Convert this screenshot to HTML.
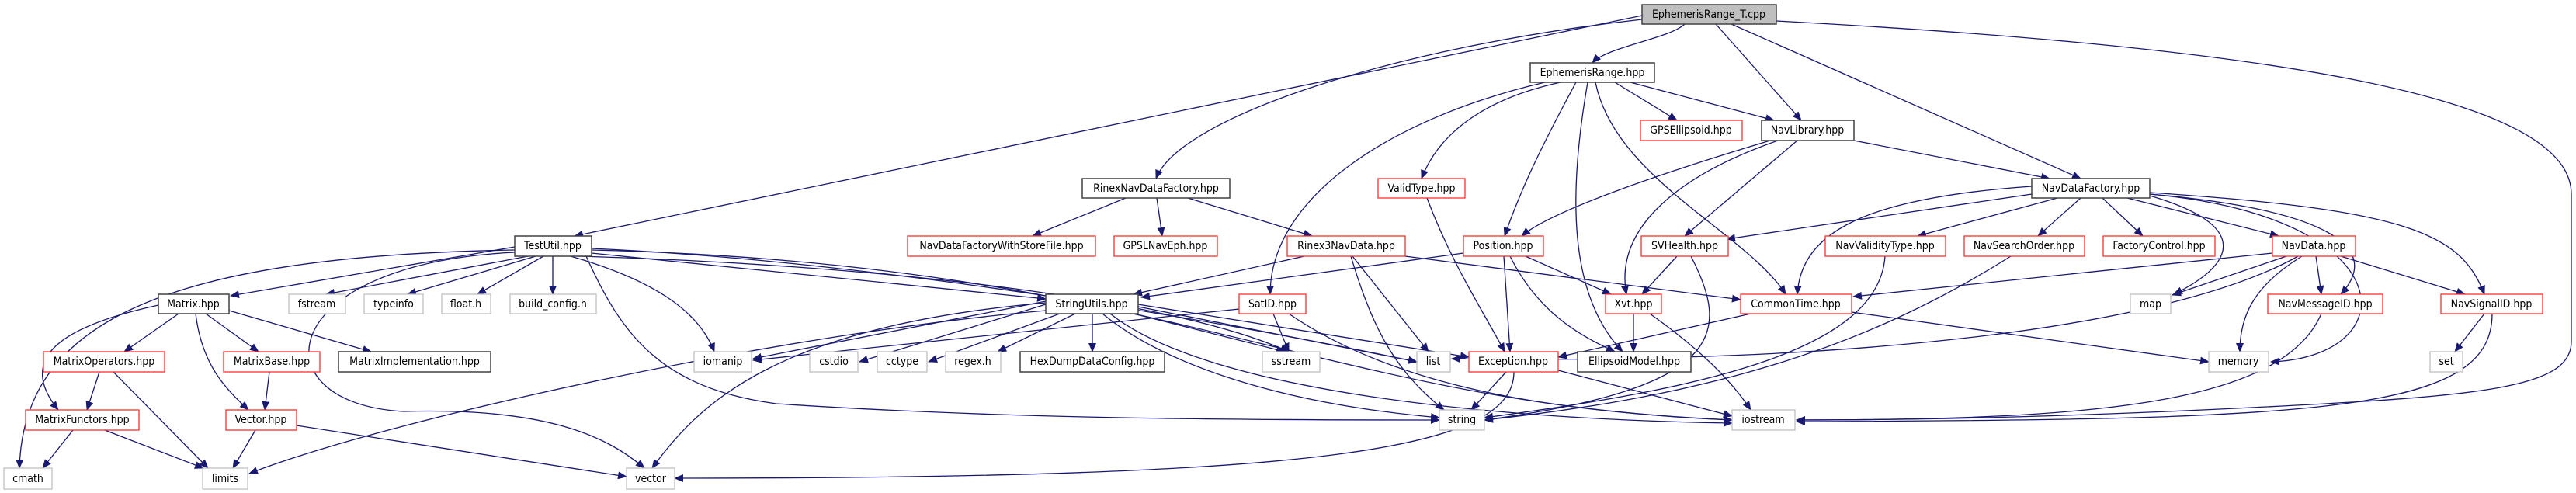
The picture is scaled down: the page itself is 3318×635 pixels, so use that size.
<!DOCTYPE html>
<html><head><meta charset="utf-8"><style>
html,body{margin:0;padding:0;background:#fff;}
svg{display:block;}
text{font-family:"DejaVu Sans Condensed","DejaVu Sans","Liberation Sans Narrow",sans-serif;font-size:14px;fill:#000;}
.e{fill:none;stroke:#191970;stroke-width:1.3;marker-end:url(#a);}
.k{fill:#fff;stroke:#404040;stroke-width:1.5;}
.r{fill:#fff;stroke:#ff3030;stroke-width:1.3;}
.g{fill:#fff;stroke:#bfbfbf;stroke-width:1.3;}
</style></head><body>
<svg width="3318" height="635" viewBox="0 0 3318 635" xmlns="http://www.w3.org/2000/svg">
<defs><marker id="a" markerUnits="userSpaceOnUse" markerWidth="12" markerHeight="10" refX="11" refY="5" orient="auto"><path d="M0,0 L12,5 L0,10 z" fill="#191970"/></marker></defs>
<g>
<!-- E_T -->
<path class="e" d="M2170,31 C2150,50 2070,60 2051,81"/>
<path class="e" d="M2210,31 L2320,155"/>
<path class="e" d="M2230,31 L2680,230"/>
<path class="e" d="M2115,20 L740,304"/>
<path class="e" d="M2115,25 C1800,60 1520,150 1489,230"/>
<path class="e" d="M2288,27 C2900,60 3312,120 3312,250 L3312,440 C3312,500 3200,510 2900,525 C2700,535 2500,541 2314,541"/>
<!-- ER -->
<path class="e" d="M2080,106 L2160,155"/>
<path class="e" d="M2100,106 L2285,155"/>
<path class="e" d="M2010,106 C1900,130 1850,180 1831,230"/>
<path class="e" d="M2030,106 C1990,180 1960,240 1938,304"/>
<path class="e" d="M1990,106 C1800,150 1636,250 1636,379"/>
<path class="e" d="M2055,106 C2080,230 2250,300 2300,379"/>
<path class="e" d="M2045,106 C2020,250 2020,380 2090,453"/>
<!-- NavLib -->
<path class="e" d="M2280,181 C2150,220 2000,270 1960,304"/>
<path class="e" d="M2290,181 C2150,230 2080,300 2095,379"/>
<path class="e" d="M2315,181 L2170,304"/>
<path class="e" d="M2388,181 L2640,230"/>
<!-- NDF -->
<path class="e" d="M2617,250 L2224,308"/>
<path class="e" d="M2617,240 C2400,255 2320,300 2315,379"/>
<path class="e" d="M2650,255 L2470,304"/>
<path class="e" d="M2680,255 L2625,304"/>
<path class="e" d="M2708,255 L2760,304"/>
<path class="e" d="M2740,255 L2935,304"/>
<path class="e" d="M2769,252 C2900,290 2880,340 2800,379"/>
<path class="e" d="M2769,250 C3000,270 3070,320 3015,379"/>
<path class="e" d="M2769,248 C3100,270 3170,300 3200,379"/>
<path class="e" d="M2769,250 C3100,280 3100,460 2925,466"/>
<!-- RNDF -->
<path class="e" d="M1450,255 L1330,304"/>
<path class="e" d="M1490,255 L1497,304"/>
<path class="e" d="M1530,255 L1690,304"/>
<!-- R3ND -->
<path class="e" d="M1680,330 L1460,379"/>
<path class="e" d="M1742,330 L1840,453"/>
<path class="e" d="M1740,330 C1770,430 1800,480 1860,528"/>
<path class="e" d="M1810,330 L2242,386"/>
<!-- ValidType -->
<path class="e" d="M1838,255 C1870,340 1910,400 1938,453"/>
<!-- Position -->
<path class="e" d="M1885,326 L1470,383"/>
<path class="e" d="M1965,330 L2075,379"/>
<path class="e" d="M1937,330 L1945,453"/>
<path class="e" d="M1945,330 C1980,400 2030,430 2080,453"/>
<!-- SVHealth -->
<path class="e" d="M2160,330 L2115,379"/>
<path class="e" d="M2178,330 C2230,430 2220,500 1912,541"/>
<!-- Xvt -->
<path class="e" d="M2104,404 L2104,453"/>
<path class="e" d="M2125,404 C2190,450 2230,490 2255,528"/>
<!-- CommonTime -->
<path class="e" d="M2255,404 L2007,460"/>
<path class="e" d="M2385,402 L2845,466"/>
<!-- Exception -->
<path class="e" d="M1940,479 L1895,528"/>
<path class="e" d="M2007,477 L2231,536"/>
<path class="e" d="M1950,479 C1950,580 1700,616 869,616"/>
<!-- NavValType / NavSearchOrder -->
<path class="e" d="M2428,330 C2420,450 2200,500 1912,538"/>
<path class="e" d="M2590,330 C2400,450 2200,510 1912,541"/>
<!-- NavData -->
<path class="e" d="M2927,326 L2387,382"/>
<path class="e" d="M2945,330 L2798,380"/>
<path class="e" d="M2965,330 C2900,370 2885,410 2885,453"/>
<path class="e" d="M2983,330 L2990,379"/>
<path class="e" d="M3015,330 L3175,379"/>
<path class="e" d="M2960,330 C2800,420 2400,470 1870,462"/>
<!-- NavMessageID / NavSignalID -->
<path class="e" d="M2990,404 C2940,520 2700,541 2314,541"/>
<path class="e" d="M3200,404 L3162,453"/>
<path class="e" d="M3210,404 C3210,530 3000,541 2314,543"/>
<!-- TestUtil -->
<path class="e" d="M663,318 L297,381"/>
<path class="e" d="M680,330 L420,379"/>
<path class="e" d="M690,330 L525,379"/>
<path class="e" d="M700,330 L615,379"/>
<path class="e" d="M712,330 L712,379"/>
<path class="e" d="M735,330 C840,360 900,400 920,453"/>
<path class="e" d="M762,326 L1347,385"/>
<path class="e" d="M663,322 C200,330 30,420 25,603"/>
<path class="e" d="M663,325 C350,340 330,520 520,530 C700,525 780,560 830,603"/>
<path class="e" d="M745,330 C1100,340 1500,380 1660,453"/>
<path class="e" d="M755,330 C800,430 850,500 1000,520 C1300,540 1600,541 1854,541"/>
<path class="e" d="M762,322 C1500,340 1700,520 2231,541"/>
<path class="e" d="M762,320 C1200,340 1700,440 1825,466"/>
<!-- Matrix -->
<path class="e" d="M230,404 L160,453"/>
<path class="e" d="M204,393 C80,420 20,460 75,528"/>
<path class="e" d="M252,404 C260,470 290,500 320,528"/>
<path class="e" d="M265,404 L333,453"/>
<path class="e" d="M295,400 L478,453"/>
<path class="e" d="M128,479 L112,528"/>
<path class="e" d="M146,479 L268,603"/>
<path class="e" d="M94,554 L55,603"/>
<path class="e" d="M135,554 L262,603"/>
<path class="e" d="M347,479 L341,528"/>
<path class="e" d="M329,554 L300,603"/>
<path class="e" d="M382,548 L807,614"/>
<!-- StringUtils -->
<path class="e" d="M1347,388 L970,462"/>
<path class="e" d="M1347,392 L1107,466"/>
<path class="e" d="M1365,404 L1196,466"/>
<path class="e" d="M1385,404 L1285,453"/>
<path class="e" d="M1407,404 L1407,453"/>
<path class="e" d="M1460,404 L1655,453"/>
<path class="e" d="M1466,395 L1825,466"/>
<path class="e" d="M1466,392 L1892,460"/>
<path class="e" d="M1420,404 C1500,470 1650,520 1854,538"/>
<path class="e" d="M1430,404 C1550,500 1900,540 2231,545"/>
<path class="e" d="M1347,390 C1000,420 900,520 840,603"/>
<path class="e" d="M1347,400 C1000,430 500,540 321,610"/>
<!-- SatID -->
<path class="e" d="M1640,404 L1660,453"/>
<path class="e" d="M1596,398 L970,464"/>
<path class="e" d="M1660,404 C1800,500 2000,530 2231,541"/>
</g>
<g>
<rect x="2115" y="6" width="173" height="25" fill="#bfbfbf" stroke="#404040" stroke-width="1.5"/><text x="2201" y="19" text-anchor="middle" dominant-baseline="central">EphemerisRange_T.cpp</text>
<rect class="k" x="1971" y="81" width="160" height="25"/><text x="2051" y="94" text-anchor="middle" dominant-baseline="central">EphemerisRange.hpp</text>
<rect class="r" x="2113" y="155" width="131" height="26"/><text x="2178" y="168" text-anchor="middle" dominant-baseline="central">GPSEllipsoid.hpp</text>
<rect class="k" x="2269" y="155" width="119" height="26"/><text x="2328" y="168" text-anchor="middle" dominant-baseline="central">NavLibrary.hpp</text>
<rect class="k" x="1394" y="230" width="190" height="25"/><text x="1489" y="243" text-anchor="middle" dominant-baseline="central">RinexNavDataFactory.hpp</text>
<rect class="r" x="1775" y="230" width="112" height="25"/><text x="1831" y="243" text-anchor="middle" dominant-baseline="central">ValidType.hpp</text>
<rect class="k" x="2617" y="230" width="152" height="25"/><text x="2693" y="243" text-anchor="middle" dominant-baseline="central">NavDataFactory.hpp</text>
<rect class="k" x="663" y="304" width="99" height="26"/><text x="712" y="317" text-anchor="middle" dominant-baseline="central">TestUtil.hpp</text>
<rect class="r" x="1169" y="304" width="242" height="26"/><text x="1290" y="317" text-anchor="middle" dominant-baseline="central">NavDataFactoryWithStoreFile.hpp</text>
<rect class="r" x="1435" y="304" width="133" height="26"/><text x="1501" y="317" text-anchor="middle" dominant-baseline="central">GPSLNavEph.hpp</text>
<rect class="r" x="1658" y="304" width="152" height="26"/><text x="1734" y="317" text-anchor="middle" dominant-baseline="central">Rinex3NavData.hpp</text>
<rect class="r" x="1885" y="304" width="103" height="26"/><text x="1936" y="317" text-anchor="middle" dominant-baseline="central">Position.hpp</text>
<rect class="r" x="2114" y="304" width="112" height="26"/><text x="2170" y="317" text-anchor="middle" dominant-baseline="central">SVHealth.hpp</text>
<rect class="r" x="2351" y="304" width="155" height="26"/><text x="2428" y="317" text-anchor="middle" dominant-baseline="central">NavValidityType.hpp</text>
<rect class="r" x="2530" y="304" width="155" height="26"/><text x="2607" y="317" text-anchor="middle" dominant-baseline="central">NavSearchOrder.hpp</text>
<rect class="r" x="2709" y="304" width="144" height="26"/><text x="2781" y="317" text-anchor="middle" dominant-baseline="central">FactoryControl.hpp</text>
<rect class="r" x="2927" y="304" width="107" height="26"/><text x="2980" y="317" text-anchor="middle" dominant-baseline="central">NavData.hpp</text>
<rect class="k" x="204" y="379" width="91" height="25"/><text x="249" y="392" text-anchor="middle" dominant-baseline="central">Matrix.hpp</text>
<rect class="g" x="372" y="379" width="73" height="25"/><text x="408" y="392" text-anchor="middle" dominant-baseline="central">fstream</text>
<rect class="g" x="469" y="379" width="76" height="25"/><text x="507" y="392" text-anchor="middle" dominant-baseline="central">typeinfo</text>
<rect class="g" x="569" y="379" width="63" height="25"/><text x="600" y="392" text-anchor="middle" dominant-baseline="central">float.h</text>
<rect class="g" x="657" y="379" width="111" height="25"/><text x="712" y="392" text-anchor="middle" dominant-baseline="central">build_config.h</text>
<rect class="k" x="1347" y="379" width="119" height="25"/><text x="1406" y="392" text-anchor="middle" dominant-baseline="central">StringUtils.hpp</text>
<rect class="r" x="1596" y="379" width="86" height="25"/><text x="1639" y="392" text-anchor="middle" dominant-baseline="central">SatID.hpp</text>
<rect class="r" x="2068" y="379" width="72" height="25"/><text x="2104" y="392" text-anchor="middle" dominant-baseline="central">Xvt.hpp</text>
<rect class="r" x="2242" y="379" width="143" height="25"/><text x="2313" y="392" text-anchor="middle" dominant-baseline="central">CommonTime.hpp</text>
<rect class="g" x="2744" y="379" width="52" height="25"/><text x="2770" y="392" text-anchor="middle" dominant-baseline="central">map</text>
<rect class="r" x="2921" y="379" width="148" height="25"/><text x="2995" y="392" text-anchor="middle" dominant-baseline="central">NavMessageID.hpp</text>
<rect class="r" x="3144" y="379" width="131" height="25"/><text x="3209" y="392" text-anchor="middle" dominant-baseline="central">NavSignalID.hpp</text>
<rect class="r" x="56" y="453" width="156" height="26"/><text x="134" y="466" text-anchor="middle" dominant-baseline="central">MatrixOperators.hpp</text>
<rect class="r" x="288" y="453" width="124" height="26"/><text x="350" y="466" text-anchor="middle" dominant-baseline="central">MatrixBase.hpp</text>
<rect class="k" x="436" y="453" width="196" height="26"/><text x="534" y="466" text-anchor="middle" dominant-baseline="central">MatrixImplementation.hpp</text>
<rect class="g" x="894" y="453" width="74" height="26"/><text x="931" y="466" text-anchor="middle" dominant-baseline="central">iomanip</text>
<rect class="g" x="1043" y="453" width="62" height="26"/><text x="1074" y="466" text-anchor="middle" dominant-baseline="central">cstdio</text>
<rect class="g" x="1130" y="453" width="64" height="26"/><text x="1162" y="466" text-anchor="middle" dominant-baseline="central">cctype</text>
<rect class="g" x="1218" y="453" width="71" height="26"/><text x="1253" y="466" text-anchor="middle" dominant-baseline="central">regex.h</text>
<rect class="k" x="1314" y="453" width="186" height="26"/><text x="1407" y="466" text-anchor="middle" dominant-baseline="central">HexDumpDataConfig.hpp</text>
<rect class="g" x="1626" y="453" width="74" height="26"/><text x="1663" y="466" text-anchor="middle" dominant-baseline="central">sstream</text>
<rect class="g" x="1825" y="453" width="43" height="26"/><text x="1846" y="466" text-anchor="middle" dominant-baseline="central">list</text>
<rect class="r" x="1892" y="453" width="115" height="26"/><text x="1949" y="466" text-anchor="middle" dominant-baseline="central">Exception.hpp</text>
<rect class="k" x="2032" y="453" width="146" height="26"/><text x="2105" y="466" text-anchor="middle" dominant-baseline="central">EllipsoidModel.hpp</text>
<rect class="g" x="2845" y="453" width="77" height="26"/><text x="2883" y="466" text-anchor="middle" dominant-baseline="central">memory</text>
<rect class="g" x="3130" y="453" width="42" height="26"/><text x="3151" y="466" text-anchor="middle" dominant-baseline="central">set</text>
<rect class="r" x="33" y="528" width="146" height="26"/><text x="106" y="541" text-anchor="middle" dominant-baseline="central">MatrixFunctors.hpp</text>
<rect class="r" x="291" y="528" width="91" height="26"/><text x="336" y="541" text-anchor="middle" dominant-baseline="central">Vector.hpp</text>
<rect class="g" x="1854" y="528" width="58" height="26"/><text x="1883" y="541" text-anchor="middle" dominant-baseline="central">string</text>
<rect class="g" x="2231" y="528" width="81" height="26"/><text x="2271" y="541" text-anchor="middle" dominant-baseline="central">iostream</text>
<rect class="g" x="5" y="603" width="62" height="27"/><text x="36" y="617" text-anchor="middle" dominant-baseline="central">cmath</text>
<rect class="g" x="261" y="603" width="58" height="27"/><text x="290" y="617" text-anchor="middle" dominant-baseline="central">limits</text>
<rect class="g" x="807" y="603" width="62" height="27"/><text x="838" y="617" text-anchor="middle" dominant-baseline="central">vector</text>
</g>
</svg>
</body></html>
